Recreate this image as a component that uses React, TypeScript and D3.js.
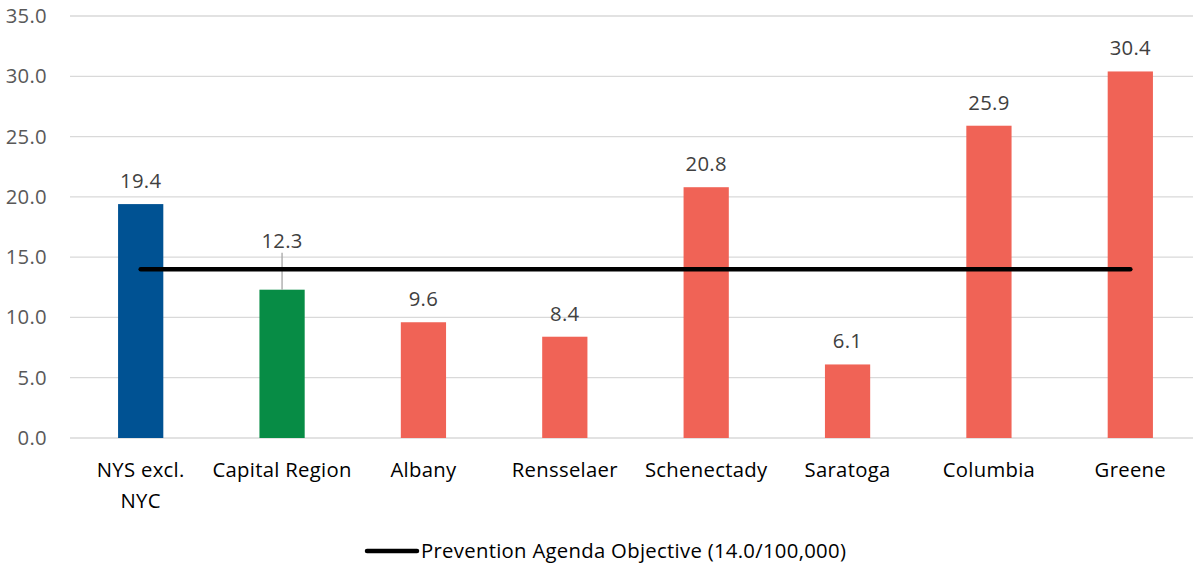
import { useRef, useEffect } from 'react';
import * as d3 from 'd3';

const categories = ['NYS excl.\nNYC', 'Capital Region', 'Albany', 'Rensselaer', 'Schenectady', 'Saratoga', 'Columbia', 'Greene'];
const values = [19.4, 12.3, 9.6, 8.4, 20.8, 6.1, 25.9, 30.4];
const barColors = ['#005293', '#078C45', '#F06356', '#F06356', '#F06356', '#F06356', '#F06356', '#F06356'];
const yTicks = [0, 5, 10, 15, 20, 25, 30, 35];
const objective = 14.0;
const legendLabel = 'Prevention Agenda Objective (14.0/100,000)';

export default function App() {
    const svgRef = useRef<SVGSVGElement>(null);

    useEffect(() => {
        if (!svgRef.current) return;
        const width = 1193;
        const height = 568;
        const font = '"Open Sans", Lato, sans-serif';
        const fs = '20.3px';
        const ls = '0.3px';

        const svg = d3.select(svgRef.current);
        svg.selectAll('*').remove();
        svg.attr('width', width).attr('height', height);

        const x = d3.scaleBand<number>()
            .domain(d3.range(categories.length))
            .range([70, 1201])
            .paddingInner(0.68)
            .paddingOuter(0.34);

        const y = d3.scaleLinear().domain([0, 35]).range([438, 16]);

        // Gridlines
        svg.append('g')
            .selectAll('line')
            .data(yTicks)
            .enter()
            .append('line')
            .attr('x1', 70)
            .attr('x2', width)
            .attr('y1', d => y(d))
            .attr('y2', d => y(d))
            .attr('stroke', '#d9d9d9')
            .attr('stroke-width', 1.3);

        // Y tick labels
        svg.append('g')
            .selectAll('text')
            .data(yTicks)
            .enter()
            .append('text')
            .attr('x', 47)
            .attr('y', d => y(d) + 7)
            .attr('text-anchor', 'end')
            .attr('font-family', font)
            .attr('font-size', fs)
            .attr('letter-spacing', ls)
            .attr('fill', '#595959')
            .text(d => d.toFixed(1));

        // Bars
        svg.append('g')
            .selectAll('rect')
            .data(values)
            .enter()
            .append('rect')
            .attr('x', (_, i) => x(i) ?? 0)
            .attr('y', d => y(d))
            .attr('width', x.bandwidth())
            .attr('height', d => y(0) - y(d))
            .attr('fill', (_, i) => barColors[i]);

        // Data labels
        const labelOffset = (i: number) => (i === 1 ? 42 : 16);
        svg.append('g')
            .selectAll('text')
            .data(values)
            .enter()
            .append('text')
            .attr('x', (_, i) => (x(i) ?? 0) + x.bandwidth() / 2)
            .attr('y', (d, i) => y(d) - labelOffset(i))
            .attr('text-anchor', 'middle')
            .attr('font-family', font)
            .attr('font-size', fs)
            .attr('letter-spacing', ls)
            .attr('fill', '#404040')
            .text(d => d.toFixed(1));

        // Leader line for moved label
        const cx1 = (x(1) ?? 0) + x.bandwidth() / 2;
        svg.append('line')
            .attr('x1', cx1)
            .attr('x2', cx1)
            .attr('y1', y(values[1]) - 37)
            .attr('y2', y(values[1]))
            .attr('stroke', '#a6a6a6')
            .attr('stroke-width', 1.3);

        // Objective line
        const first = (x(0) ?? 0) + x.bandwidth() / 2;
        const last = (x(categories.length - 1) ?? 0) + x.bandwidth() / 2;
        svg.append('line')
            .attr('x1', first)
            .attr('x2', last)
            .attr('y1', y(objective))
            .attr('y2', y(objective))
            .attr('stroke', '#000')
            .attr('stroke-width', 4.5)
            .attr('stroke-linecap', 'round');

        // Category labels
        const cat = svg.append('g')
            .selectAll('text')
            .data(categories)
            .enter()
            .append('text')
            .attr('x', (_, i) => (x(i) ?? 0) + x.bandwidth() / 2)
            .attr('y', 477)
            .attr('text-anchor', 'middle')
            .attr('font-family', font)
            .attr('font-size', fs)
            .attr('letter-spacing', ls)
            .attr('fill', '#000');
        cat.each(function (d) {
            const t = d3.select(this);
            const cx = t.attr('x');
            d.split('\n').forEach((line, k) => {
                t.append('tspan').attr('x', cx).attr('dy', k === 0 ? 0 : 31).text(line);
            });
        });

        // Legend
        svg.append('line')
            .attr('x1', 367)
            .attr('x2', 417)
            .attr('y1', 551)
            .attr('y2', 551)
            .attr('stroke', '#000')
            .attr('stroke-width', 4.5)
            .attr('stroke-linecap', 'round');
        svg.append('text')
            .attr('x', 421)
            .attr('y', 558)
            .attr('font-family', font)
            .attr('font-size', fs)
            .attr('letter-spacing', ls)
            .attr('fill', '#000')
            .text(legendLabel);
    }, []);

    return (
        <div style={{ position: 'fixed', left: 0, top: 0, width: 1193, height: 568, background: '#fff' }}>
            <svg ref={svgRef} style={{ display: 'block' }} />
        </div>
    );
}
